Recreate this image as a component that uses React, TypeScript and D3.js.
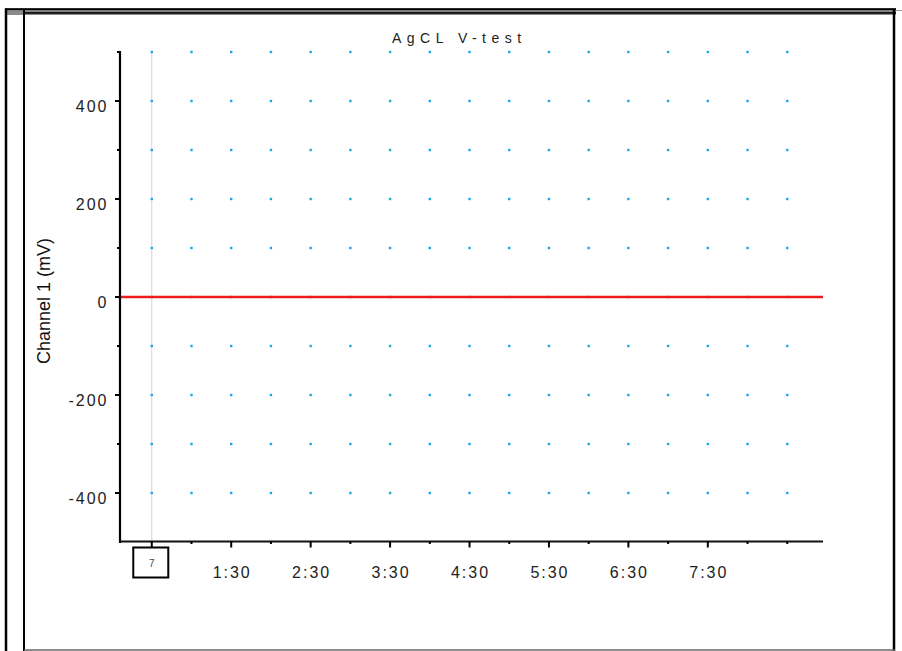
import React from "react";
import * as d3 from "d3";

// ---- data ----
const chartTitle = "AgCL V-test";
const yAxisLabel = "Channel 1 (mV)";
const xMajorTicks = [30, 90, 150, 210, 270, 330, 390, 450];
const xMajorLabels = ["", "1:30", "2:30", "3:30", "4:30", "5:30", "6:30", "7:30"];
const xMinorTicks = [60, 120, 180, 240, 300, 360, 420, 480, 510];
const yMajorTicks = [-400, -200, 0, 200, 400];
const yMajorLabels = ["-400", "-200", "0", "200", "400"];
const yMinorTicks = [-300, -100, 100, 300, 500];
const gridTimes = [30, 60, 90, 120, 150, 180, 210, 240, 270, 300, 330, 360, 390, 420, 450, 480, 510];
const gridLevels = [500, 400, 300, 200, 100, 0, -100, -200, -300, -400];
const seriesTime = [6, 60, 120, 180, 240, 300, 360, 420, 480, 537];
const seriesMv = [0, 0, 0, 0, 0, 0, 0, 0, 0, 0];
const cursorTime = 30;
const cursorLabel = "7";

const W = 902;
const H = 651;

export default function App() {
  const x = d3.scaleLinear().domain([6, 537]).range([120, 823]);
  const y = d3.scaleLinear().domain([-500, 500]).range([542, 52]);
  const line = d3
    .line<number>()
    .x((_, i) => x(seriesTime[i]))
    .y((d) => y(d));

  const tickFont = {
    fontFamily: "'Liberation Sans', Arial, sans-serif",
    fontSize: 16,
    letterSpacing: 2,
    fill: "#222",
  } as const;

  const cx = x(cursorTime);

  return (
    <div style={{ position: "fixed", left: 0, top: 0, width: W, height: H, background: "#fff" }}>
      <svg width={W} height={H} style={{ display: "block" }}>
        {/* frame */}
        <rect x={5} y={8} width={891} height={7} fill="#8a8a8a" />
        <rect x={5} y={8.3} width={891} height={1.8} fill="#000" />
        <rect x={24} y={12} width={872} height={1.8} fill="#111" />
        <line x1={6} y1={8.5} x2={6} y2={H} stroke="#000" strokeWidth={2.5} />
        <line x1={24} y1={10} x2={24} y2={H} stroke="#000" strokeWidth={2} />
        <line x1={894} y1={10} x2={894} y2={H} stroke="#000" strokeWidth={2.5} />
        <line x1={896} y1={10.5} x2={W} y2={10.5} stroke="#999" strokeWidth={1} />
        <line x1={24} y1={650} x2={895} y2={650} stroke="#666" strokeWidth={1.5} />

        {/* title */}
        <text
          x={392}
          y={43}
          fontFamily="'Liberation Sans', Arial, sans-serif"
          fontSize={14}
          letterSpacing={5.5}
          fill="#222"
        >
          {chartTitle}
        </text>

        {/* cursor line */}
        <line x1={cx} y1={51} x2={cx} y2={547} stroke="#d4d4d4" strokeWidth={1} />

        {/* grid dots */}
        {gridLevels.map((lv) =>
          gridTimes.map((t) => (
            <rect
              key={`${lv}-${t}`}
              x={x(t) - 1.2}
              y={y(lv) - 1.2}
              width={2.4}
              height={2.4}
              fill="#1aa8e4"
            />
          ))
        )}

        {/* series */}
        <path d={line(seriesMv) || ""} fill="none" stroke="#ee1c1c" strokeWidth={2.5} />

        {/* y axis */}
        <line x1={120} y1={y(500) - 1} x2={120} y2={y(-500) + 1} stroke="#000" strokeWidth={2.2} />
        {yMajorTicks.map((v, i) => (
          <g key={`ym${v}`}>
            <line x1={115} y1={y(v)} x2={120} y2={y(v)} stroke="#000" strokeWidth={2} />
            <text x={108.5} y={y(v) + 11} textAnchor="end" {...tickFont}>
              {yMajorLabels[i]}
            </text>
          </g>
        ))}
        {yMinorTicks.map((v) => (
          <line key={`yn${v}`} x1={117} y1={y(v)} x2={120} y2={y(v)} stroke="#000" strokeWidth={2} />
        ))}
        <text
          transform={`translate(50,301) rotate(-90)`}
          textAnchor="middle"
          fontFamily="'Liberation Sans', Arial, sans-serif"
          fontSize={18}
          fill="#111"
        >
          {yAxisLabel}
        </text>

        {/* x axis */}
        <line x1={119} y1={541.5} x2={823} y2={541.5} stroke="#111" strokeWidth={2.2} />
        {xMajorTicks.map((t, i) => (
          <g key={`xm${t}`}>
            <line x1={x(t)} y1={541} x2={x(t)} y2={547.5} stroke="#000" strokeWidth={2} />
            {xMajorLabels[i] && (
              <text x={x(t) + 1} y={578} textAnchor="middle" {...tickFont}>
                {xMajorLabels[i]}
              </text>
            )}
          </g>
        ))}
        {xMinorTicks.map((t) => (
          <line key={`xn${t}`} x1={x(t)} y1={541} x2={x(t)} y2={544} stroke="#000" strokeWidth={2} />
        ))}

        {/* cursor box */}
        <rect x={cx - 18.5} y={547.5} width={35} height={30} fill="#fff" stroke="#000" strokeWidth={2} />
        <text
          x={cx}
          y={567}
          textAnchor="middle"
          fontFamily="'Liberation Sans', Arial, sans-serif"
          fontSize={10}
          fill="#444"
        >
          {cursorLabel}
        </text>
      </svg>
    </div>
  );
}
